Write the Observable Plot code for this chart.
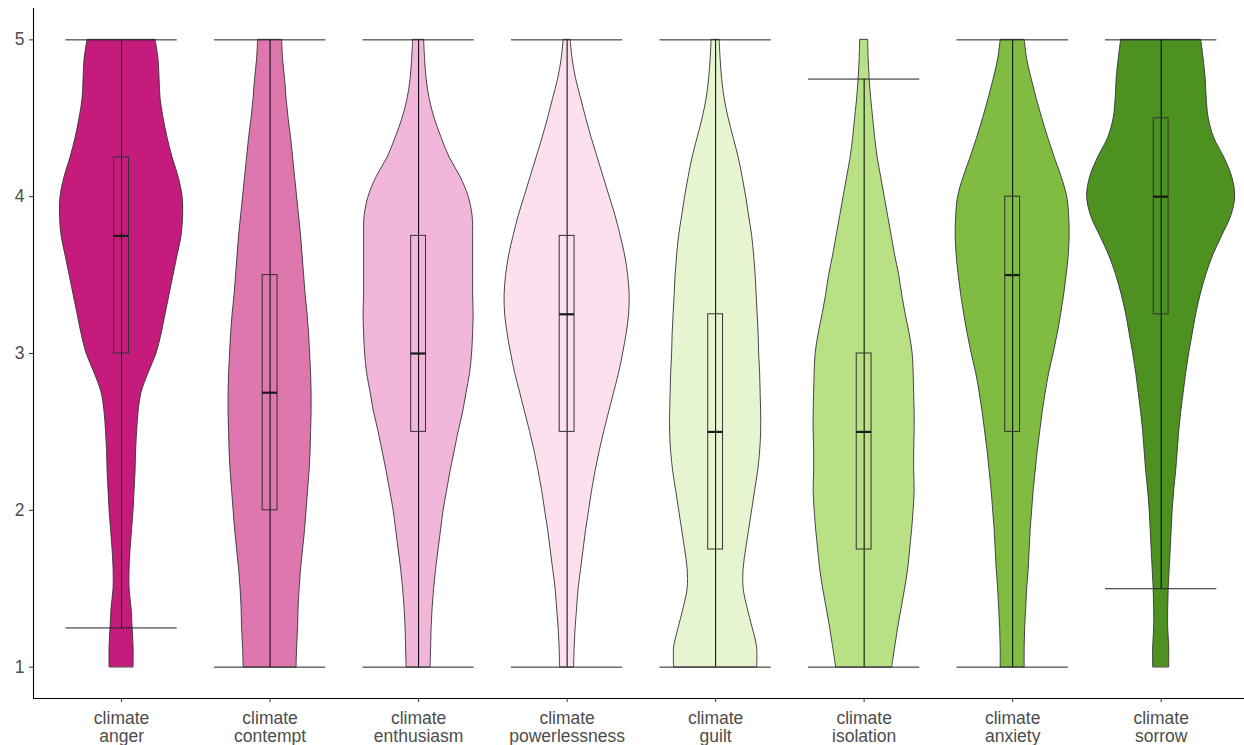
<!DOCTYPE html>
<html>
<head>
<meta charset="utf-8">
<script src="https://cdn.jsdelivr.net/npm/d3@7"></script>
<script src="https://cdn.jsdelivr.net/npm/@observablehq/plot@0.6"></script>
<style>
  html, body { margin: 0; padding: 0; background: #ffffff; }
  #chart svg { display: block; }
</style>
</head>
<body>
<div id="chart"></div>
<script>
// ---- Data ----
const categories = [
  "climate\nanger", "climate\ncontempt", "climate\nenthusiasm", "climate\npowerlessness",
  "climate\nguilt", "climate\nisolation", "climate\nanxiety", "climate\nsorrow"
];
const colors = ["#C51B7D", "#DE77AE", "#F1B6DA", "#FDE0EF", "#E6F5D0", "#B8E186", "#7FBC41", "#4D9221"];

// y levels at which the violin density (half-width) was read, bottom to top
const levels = [1, 1.125, 1.25, 1.375, 1.5, 1.625, 1.75, 1.875, 2, 2.125, 2.25, 2.375, 2.5, 2.625, 2.75, 2.875,
  3, 3.125, 3.25, 3.375, 3.5, 3.625, 3.75, 3.875, 4, 4.125, 4.25, 4.375, 4.5, 4.625, 4.75, 4.875, 5];

// relative kernel density (scaled), bottom to top
const densAnger = [12,12,11,10,8,8,9,10.5,12,13,14,14.5,15.5,17,20,27,35,40,44,48,52,56,60,61.5,61,57,51,46,42,39,38,37,34];
const densContempt = [26.5,27,28,28.5,29.5,31,33,35,36.5,38,39.5,40.5,41,41.5,41.5,41,40,39,37.5,35.5,34,32.5,31,29,27,25,23,21,18.5,16.5,15,13,12];
const densEnthusiasm = [12,12.5,13,14,15.5,17.5,20,22.5,25,28.5,32,36,40,44.5,48,51.5,53.5,54.5,55,54.5,54.5,54.5,54.5,54,50,42,31,23,16,11,8,6.5,5.5];
const densPowerlessness = [7,7.5,8.5,10,11.5,14,16.5,19,22,25,28.5,32.5,37,42,47,52,56,59.5,62,62.5,61,58,53.5,48.5,42.5,36.5,30.5,24.5,19,14,9,5.5,3.5];
const densGuilt = [41.5,41.5,37,32,28,28,30.5,33.5,36.5,39.5,42.5,44.5,45.5,45.5,45,44.5,43.5,43,42,41,40,38.5,36.5,33.5,30.5,27,23,18,13,9,6.5,5,4];
const densIsolation = [28,31,34,37.5,41,44,46,48,49.5,50.5,50,50,50.5,50.5,50,49.5,48.5,45.5,41.5,38,35,31,27.5,24,20.5,17,13.5,11,9,7,5.5,4.5,4];
const densAnxiety = [12,12,12.5,13.5,14.5,16,17,18,19.5,21,23,25,27.5,30,33,36.5,41,45,48.5,51.5,54,56,57,56.5,54.5,49,42,35.5,29.5,24,19,14.5,12];
const densSorrow = [8,8,7,7,7.5,8.5,9.5,10.5,11.5,13,15,16.5,18,20,22.5,25,28,31.5,35,39.5,45,52,61,70,74,71,63,53,47.5,45.5,44.5,42.5,40];

// boxplot statistics
const whiskerLow  = [1.25, 1, 1, 1, 1, 1, 1, 1.5];
const q1          = [3, 2, 2.5, 2.5, 1.75, 1.75, 2.5, 3.25];
const medians     = [3.75, 2.75, 3, 3.25, 2.5, 2.5, 3.5, 4];
const q3          = [4.25, 3.5, 3.75, 3.75, 3.25, 3, 4, 4.5];
const whiskerHigh = [5, 5, 5, 5, 5, 4.75, 5, 5];

const yTicks = [1, 2, 3, 4, 5];

// ---- Build ----
const densities = [densAnger, densContempt, densEnthusiasm, densPowerlessness, densGuilt, densIsolation, densAnxiety, densSorrow];
const densityScale = 1 / 148.5;   // density units -> category steps
const boxHalf = 0.05;             // boxplot width 0.1
const errHalf = 0.375;            // errorbar width 0.75

const idx = categories.map((_, i) => i);
const stats = idx.map(i => ({i, lo: whiskerLow[i], q1: q1[i], med: medians[i], q3: q3[i], hi: whiskerHigh[i]}));

const xDomain = [-0.593, 7.561];
const yDomain = [0.8, 5.2];

const violins = idx.map(i => Plot.areaX(
  levels.map((y, j) => ({y, d: densities[i][j]})),
  {
    y: "y",
    x1: d => i - d.d * densityScale,
    x2: d => i + d.d * densityScale,
    fill: colors[i],
    stroke: "#333333",
    strokeWidth: 0.9,
    curve: "catmull-rom"
  }
));

const chart = Plot.plot({
  width: 1244,
  height: 745,
  marginLeft: 33,
  marginRight: 0,
  marginTop: 8,
  marginBottom: 47,
  style: {fontFamily: "'Liberation Sans', Arial, sans-serif", background: "#ffffff"},
  x: {domain: xDomain},
  y: {domain: yDomain},
  marks: [
    ...violins,
    Plot.ruleX(stats, {x: "i", y1: "lo", y2: "hi", stroke: "#000000", strokeWidth: 1}),
    Plot.ruleY(stats, {y: "lo", x1: d => d.i - errHalf, x2: d => d.i + errHalf, stroke: "#222222", strokeWidth: 1}),
    Plot.ruleY(stats, {y: "hi", x1: d => d.i - errHalf, x2: d => d.i + errHalf, stroke: "#222222", strokeWidth: 1}),
    Plot.rect(stats, {x1: d => d.i - boxHalf, x2: d => d.i + boxHalf, y1: "q1", y2: "q3", fill: "none", stroke: "#333333", strokeWidth: 1}),
    Plot.ruleY(stats, {y: "med", x1: d => d.i - boxHalf, x2: d => d.i + boxHalf, stroke: "#1a1a1a", strokeWidth: 2.2}),
    Plot.ruleX([xDomain[0]], {stroke: "#000000", strokeWidth: 1.1}),
    Plot.ruleY([yDomain[0]], {stroke: "#000000", strokeWidth: 1.1}),
    Plot.axisY({ticks: yTicks, tickSize: 4, tickPadding: 5, fontSize: 17.5, stroke: "#333333", fill: "#4d4d4d", tickFormat: d => String(d), label: null}),
    Plot.axisX({ticks: idx, tickSize: 4, tickPadding: 9.5, fontSize: 17.5, lineHeight: 1.0, stroke: "#333333", fill: "#4d4d4d", tickFormat: i => categories[i], label: null})
  ]
});
document.getElementById("chart").appendChild(chart);
</script>
</body>
</html>
